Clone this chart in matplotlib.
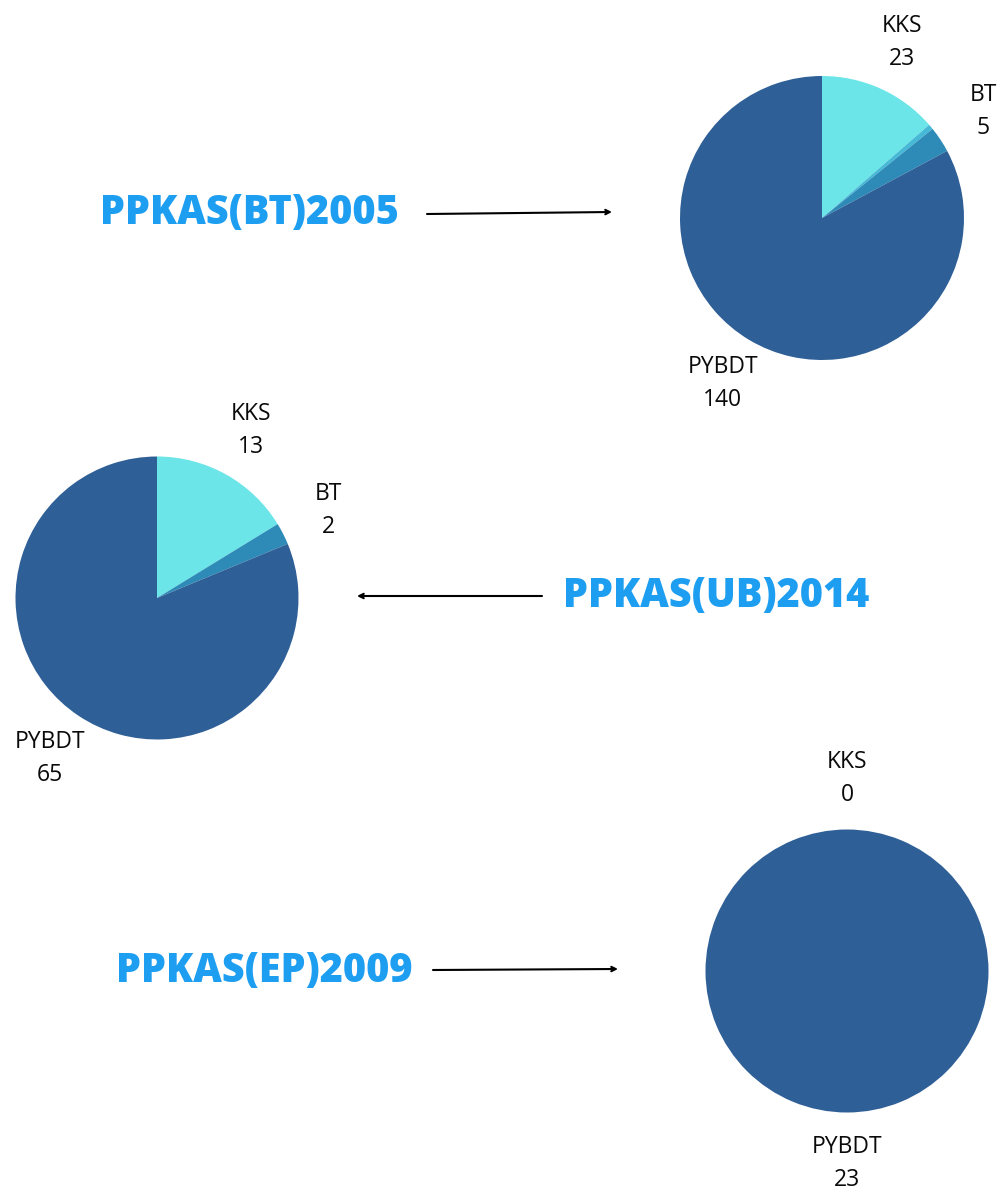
import matplotlib.pyplot as plt
from matplotlib.patches import FancyArrowPatch

# Daten
cats_bt = ['KKS', '', 'BT', 'PYBDT']
vals_bt = [23, 1, 5, 140]
cats_ub = ['KKS', 'BT', 'PYBDT']
vals_ub = [13, 2, 65]
cats_ep = ['KKS', 'PYBDT']
vals_ep = [0, 23]
titles = ['PPKAS(BT)2005', 'PPKAS(UB)2014', 'PPKAS(EP)2009']

col = {'KKS': '#6be5e8', '': '#45b9d6', 'BT': '#2e8bb8', 'PYBDT': '#2f5f97'}
title_color = '#1e9ef0'

W, H = 1007, 1196
fig = plt.figure(figsize=(W / 100, H / 100), dpi=100)
fig.patch.set_facecolor('white')


def draw_pie(cx, cy, r, cats, vals):
    ax = fig.add_axes([(cx - r) / W, (H - cy - r) / H, 2 * r / W, 2 * r / H])
    labels = [f'{c}\n{v}' if c else '' for c, v in zip(cats, vals)]
    ax.pie(vals, labels=labels, colors=[col[c] for c in cats],
           startangle=90, counterclock=False, radius=1,
           labeldistance=1.36,
           wedgeprops=dict(linewidth=0),
           textprops=dict(ha='center', va='center', fontsize=16.5,
                          family='Open Sans', linespacing=1.5, color='#0a0a0a'))
    ax.set_xlim(-1, 1)
    ax.set_ylim(-1, 1)
    ax.axis('off')


draw_pie(822, 218, 142, cats_bt, vals_bt)
draw_pie(157, 598, 141.5, cats_ub, vals_ub)
draw_pie(847, 971, 141.5, cats_ep, vals_ep)

# Titel
for (x, y), t in zip([(249, 214), (716, 597), (264, 972)], titles):
    fig.text(x / W, 1 - y / H, t, ha='center', va='center', fontsize=28.5,
             fontweight='heavy', family='Open Sans', color=title_color)

# Pfeile
arrows = [((427, 214), (612, 212)), ((542, 596), (357, 596)), ((433, 970), (618, 969))]
for (x0, y0), (x1, y1) in arrows:
    fig.add_artist(FancyArrowPatch(
        (x0 / W, 1 - y0 / H), (x1 / W, 1 - y1 / H), transform=fig.transFigure,
        arrowstyle='->', mutation_scale=8, lw=1.5, color='black',
        shrinkA=0, shrinkB=0))

plt.savefig('out.png', dpi=100)
